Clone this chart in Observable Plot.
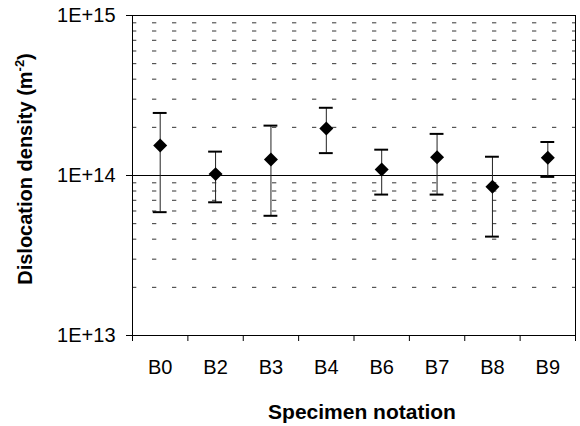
<!DOCTYPE html>
<html>
<head>
<meta charset="utf-8">
<script src="https://cdn.jsdelivr.net/npm/d3@7"></script>
<script src="https://cdn.jsdelivr.net/npm/@observablehq/plot@0.6"></script>
<style>
  html, body { margin: 0; padding: 0; background: #fff; }
</style>
</head>
<body>
<div id="chart"></div>
<script>
// Dislocation density per specimen, with lower / upper bounds (m^-2)
const specimens = ["B0", "B2", "B3", "B4", "B6", "B7", "B8", "B9"];
const density   = [1.54e14, 1.02e14, 1.26e14, 1.97e14, 1.09e14, 1.30e14, 8.5e13, 1.29e14];
const upper     = [2.46e14, 1.41e14, 2.05e14, 2.65e14, 1.45e14, 1.82e14, 1.31e14, 1.62e14];
const lower     = [5.9e13, 6.8e13, 5.6e13, 1.38e14, 7.6e13, 7.6e13, 4.15e13, 9.8e13];

// Log axis: labelled decades and dashed minor gridlines
const majorTicks = [1e13, 1e14, 1e15];
const minorTicks = [2e13, 3e13, 4e13, 5e13, 6e13, 7e13, 8e13, 9e13,
                    2e14, 3e14, 4e14, 5e14, 6e14, 7e14, 8e14, 9e14];

const xTitle = "Specimen notation";

// each specimen sits in the middle of a unit-wide slot
const rows = specimens.map((name, i) => ({
  name, pos: i + 0.5, value: density[i], hi: upper[i], lo: lower[i]
}));
const capHalf = 0.125; // half width of error-bar caps, in slot units

const font = '"Liberation Sans", Arial, Helvetica, sans-serif';

const chart = Plot.plot({
  width: 580,
  height: 426,
  marginLeft: 132,
  marginRight: 5,
  marginTop: 15,
  marginBottom: 91,
  style: { fontFamily: font, fontSize: "20px", color: "#000", background: "#fff" },
  x: { type: "linear", domain: [0, specimens.length] },
  y: { type: "log", domain: [1e13, 1e15] },
  marks: [
    Plot.ruleY(minorTicks, { stroke: "#333", strokeWidth: 1, strokeDasharray: "4.3,15.7" }),
    Plot.ruleY([1e14], { stroke: "#000", strokeWidth: 1 }),
    Plot.frame({ stroke: "#000", strokeWidth: 1 }),
    Plot.axisY({
      ticks: majorTicks,
      tickFormat: d => "1E+" + Math.round(Math.log10(d)),
      tickSize: 6, tickPadding: 11, fontSize: 20, label: null, stroke: "#000"
    }),
    Plot.axisX({
      ticks: d3.range(0.5, specimens.length),
      tickFormat: d => specimens[Math.floor(d)],
      tickSize: 0, tickPadding: 24, fontSize: 20, label: null
    }),
    Plot.axisX({
      ticks: d3.range(0, specimens.length + 1),
      tickFormat: () => "",
      tickSize: 6, label: null, stroke: "#000"
    }),
    // error bars
    Plot.ruleX(rows, { x: "pos", y1: "lo", y2: "hi", stroke: "#222", strokeWidth: 1 }),
    Plot.ruleY(rows, { y: "hi", x1: d => d.pos - capHalf, x2: d => d.pos + capHalf, stroke: "#000", strokeWidth: 2 }),
    Plot.ruleY(rows, { y: "lo", x1: d => d.pos - capHalf, x2: d => d.pos + capHalf, stroke: "#000", strokeWidth: 2 }),
    // measured values
    Plot.dot(rows, { x: "pos", y: "value", symbol: "diamond2", r: 6.3, fill: "#000", stroke: "none" }),
    // x-axis title
    Plot.text([xTitle], {
      text: d => d, frameAnchor: "bottom", lineAnchor: "middle", dy: 77, dx: 8,
      fontWeight: "bold", fontSize: 21, fill: "#000"
    })
  ]
});

// y-axis title with a superscript exponent
const svg = d3.select(chart);
const yTitle = svg.append("text")
  .attr("transform", "translate(32,169) rotate(-90)")
  .attr("text-anchor", "middle")
  .attr("font-family", font)
  .attr("font-weight", "bold")
  .attr("font-size", 20)
  .attr("fill", "#000");
yTitle.append("tspan").text("Dislocation density (m");
yTitle.append("tspan").attr("font-size", 13).attr("dy", -8).text("-2");
yTitle.append("tspan").attr("dy", 8).text(")");

document.getElementById("chart").appendChild(chart);
</script>
</body>
</html>
